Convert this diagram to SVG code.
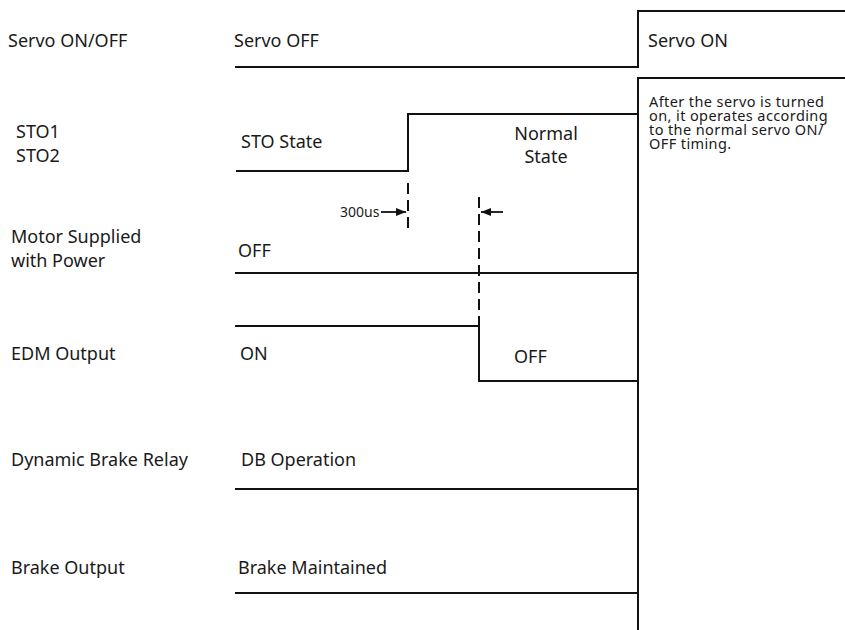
<svg xmlns="http://www.w3.org/2000/svg" width="845" height="630" viewBox="0 0 845 630">
<style>
text{font-family:"Noto Sans","Open Sans","DejaVu Sans",sans-serif;font-size:18px;fill:#1a1a1a}
.s{font-size:14.5px;letter-spacing:0.4px}
.u{font-size:14px}
.w{fill:none;stroke:#111;stroke-width:2}
.d{fill:none;stroke:#111;stroke-width:2;stroke-dasharray:11 6}
.a{fill:none;stroke:#111;stroke-width:1.8}
</style>
<defs>
<marker id="ah" viewBox="0 0 10 8" refX="10" refY="4" markerWidth="10" markerHeight="8" markerUnits="userSpaceOnUse" orient="auto"><path d="M0,0 L10,4 L0,8 Z" fill="#111"/></marker>
</defs>
<rect width="845" height="630" fill="#fff"/>
<g id="labels">
<text x="8" y="47">Servo ON/OFF</text>
<text x="16" y="138">STO1</text>
<text x="16" y="162">STO2</text>
<text x="11" y="243">Motor Supplied</text>
<text x="11" y="267">with Power</text>
<text x="11" y="360">EDM Output</text>
<text x="11" y="466">Dynamic Brake Relay</text>
<text x="11" y="574">Brake Output</text>
</g>
<g id="servo">
<text x="234" y="47">Servo OFF</text>
<text x="648" y="47">Servo ON</text>
</g>
<g id="note">
<text class="s" x="649" y="107">After the servo is turned</text>
<text class="s" x="649" y="121">on, it operates according</text>
<text class="s" x="649" y="135">to the normal servo ON/</text>
<text class="s" x="649" y="149">OFF timing.</text>
</g>
<g id="sto">
<text x="241" y="148">STO State</text>
<text x="546" y="140" text-anchor="middle">Normal</text>
<text x="546" y="163" text-anchor="middle">State</text>
<text class="u" x="340" y="217">300us</text>
</g>
<g id="motor"><text x="238" y="257">OFF</text></g>
<g id="edm">
<text x="240" y="360">ON</text>
<text x="514" y="363">OFF</text>
</g>
<g id="db"><text x="241" y="466">DB Operation</text></g>
<g id="brake"><text x="238" y="574">Brake Maintained</text></g>
<g id="connectors">
<polyline class="w" points="235,67 638,67 638,11 845,11"/>
<polyline class="w" points="845,78 638,78 638,630"/>
<polyline class="w" points="236,171 408,171 408,114 638,114"/>
<line class="w" x1="235" y1="273" x2="638" y2="273"/>
<polyline class="w" points="235,326 479,326 479,381 638,381"/>
<line class="w" x1="235" y1="489" x2="638" y2="489"/>
<line class="w" x1="235" y1="593" x2="638" y2="593"/>
<line class="d" x1="408" y1="183" x2="408" y2="232"/>
<line class="d" x1="479" y1="197" x2="479" y2="326"/>
<line class="a" x1="381" y1="212" x2="406" y2="212" marker-end="url(#ah)"/>
<line class="a" x1="503" y1="212" x2="481" y2="212" marker-end="url(#ah)"/>
</g>
</svg>
